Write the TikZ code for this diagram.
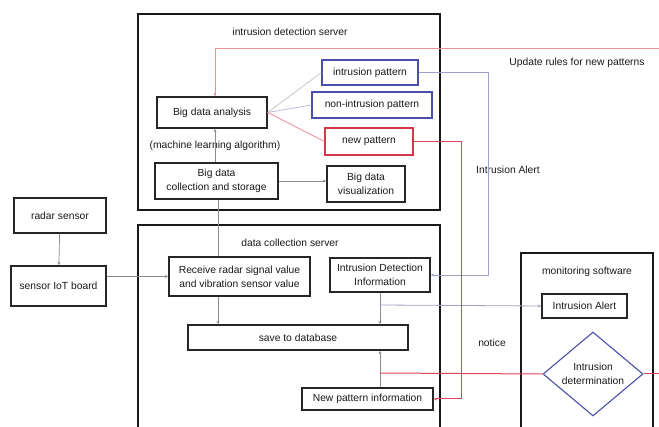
\documentclass[tikz,border=0pt]{standalone}
\usepackage{fontspec}
\setmainfont{Liberation Sans}
\usetikzlibrary{arrows.meta,shapes.geometric}
\definecolor{linegray}{HTML}{8C8C8C}
\definecolor{lineblue}{HTML}{9CA2C8}
\definecolor{linered}{HTML}{E04458}
\definecolor{linepink}{HTML}{EE8C98}
\definecolor{boxblue}{HTML}{4A4EA8}
\definecolor{boxred}{HTML}{D8344A}
\tikzset{
  every node/.style={font=\fontsize{10.3}{14}\selectfont, text=black!90, align=center, inner sep=0.5pt},
  server/.style={draw=black!90, line width=2.4pt},
  box/.style={draw=black!85, line width=1.4pt, rectangle},
  bluebox/.style={draw=boxblue, line width=1.2pt, rectangle},
  redbox/.style={draw=boxred, line width=1.2pt, rectangle},
  freetext/.style={},
  tip/.style={-{Stealth[length=3.5pt,width=3pt]}},
  gline/.style={draw=linegray, line width=0.7pt},
  bline/.style={draw=lineblue, line width=0.8pt},
  rline/.style={draw=linered, line width=1pt},
  pline/.style={draw=linepink, line width=0.8pt},
}
\begin{document}
\begin{tikzpicture}[x=1pt,y=-1pt]
\useasboundingbox (0,0) rectangle (659,427);

% server frames
\draw[server] (138,14) rectangle (440,210);
\draw[server] (138,225) rectangle (440,440);
\draw[server] (521,253) rectangle (653,440);

\node[freetext] (idsTitle) at (290,32) {intrusion detection server};
\node[freetext] (dcsTitle) at (290,243) {data collection server};
\node[freetext] (msTitle) at (587,272) {monitoring software};

% intrusion detection server
\node[box, minimum width=110, minimum height=31] (bda) at (212,112.5) {Big data analysis};
\node[freetext] (ml) at (215,146) {(machine learning algorithm)};
\node[box, minimum width=123, minimum height=36] (bdc) at (216.5,181) {Big data\\collection and storage};
\node[box, minimum width=78, minimum height=36] (bdv) at (366,184) {Big data\\visualization};
\node[bluebox, minimum width=96, minimum height=25] (ip) at (370,72.5) {intrusion pattern};
\node[bluebox, minimum width=120, minimum height=26] (nip) at (372,105) {non-intrusion pattern};
\node[redbox, minimum width=88, minimum height=27] (np) at (369,141.5) {new pattern};

% sensors
\node[box, minimum width=92, minimum height=35] (radar) at (60,215.5) {radar sensor};
\node[box, minimum width=95, minimum height=40] (board) at (58.5,286) {sensor IoT board};

% data collection server
\node[box, minimum width=141, minimum height=39] (rcv) at (239.5,276.5) {Receive radar signal value\\and vibration sensor value};
\node[box, minimum width=100, minimum height=34] (idi) at (380,275) {Intrusion Detection\\Information};
\node[box, minimum width=220, minimum height=25] (db) at (298,337.5) {save to database};
\node[box, minimum width=131, minimum height=22] (npi) at (367.5,399) {New pattern information};

% monitoring software
\node[box, minimum width=85, minimum height=24] (ia) at (584.5,306) {Intrusion Alert};
\node[diamond, draw=boxblue, line width=1.1pt, minimum width=100, minimum height=75, inner sep=0pt] (det) at (593,374) {Intrusion\\determination};

% free labels
\node[freetext] (upd) at (577,63) {Update rules for new patterns};
\node[freetext] (alert) at (508,170) {Intrusion Alert};
\node[freetext] (notice) at (492,343) {notice};

% helper points
\coordinate (topR) at (659,48);
\coordinate (detR) at (659,374);
\coordinate (jA) at (380,305);
\coordinate (jB) at (380,373);
\coordinate (npBend) at (461.5,141.5);

% pattern classification links
\draw[draw=black!22, line width=0.8pt] (bda.east) -- (ip.west);
\draw[draw=lineblue!70, line width=0.8pt] (bda.east) -- (nip.west);
\draw[draw=linepink, line width=0.8pt] (bda.east) -- (np.west);

% data flow
\draw[gline, tip] (radar) -- (board);
\draw[gline, tip] (board.east |- rcv.west) -- (rcv.west);
\draw[gline] (rcv.north -| 218,0) -- (bdc.south -| 218,0);
\draw[gline, tip] (bdc.north -| 215,0) -- (bda.south -| 215,0);
\draw[gline, tip] (bdc.east) -- (bdv.west |- bdc.east);
\draw[gline, tip] (rcv.south -| 218,0) -- (db.north -| 218,0);
\draw[gline, tip] (idi.south) -- (db.north -| idi.south);
\draw[gline, tip] (npi.north -| idi.south) -- (db.south -| idi.south);

% alerts and feedback
\draw[bline, tip] (ip.east) -- (488,72.5) -- (488,275) -- (idi.east);
\draw[bline, tip] (jA) -- (ia.west);
\draw[rline, tip] (np.east) -- (npBend) -- (npBend |- npi.east) -- (npi.east);
\draw[rline] (jB) -- (det.west);
\draw[rline] (det.east) -- (detR);
\draw[pline, tip] (topR) -- (215,48) -- (bda.north -| 215,0);
\end{tikzpicture}
\end{document}
